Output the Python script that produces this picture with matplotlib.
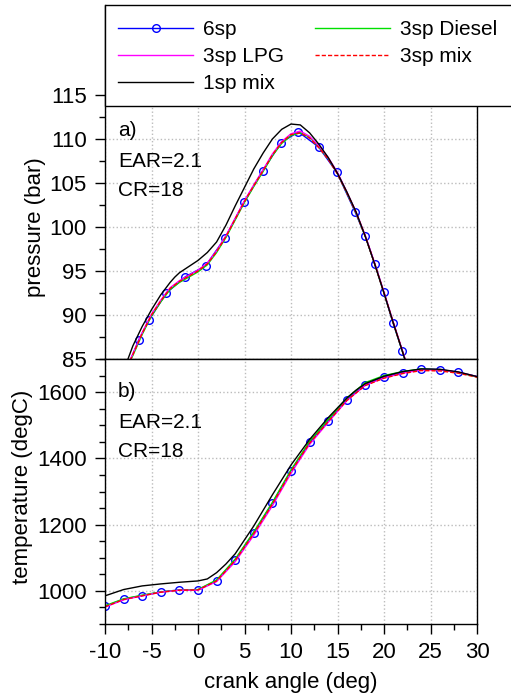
import matplotlib
matplotlib.use("Agg")
import matplotlib.pyplot as plt
from matplotlib.patches import Rectangle
from matplotlib.ticker import MultipleLocator, FixedLocator

plt.rcParams['font.family'] = ['Liberation Sans', 'DejaVu Sans']
plt.rcParams['axes.unicode_minus'] = False

################ pressure (bar), panel a) ################
p6_x = [-7.3, -6.36, -5.28, -3.4, -1.35, 0.83, 2.93, 4.93, 6.97, 8.94, 10.8,
        12.97, 14.94, 16.9, 17.97, 19.0, 19.97, 20.97, 21.97, 22.6]
p6_y = [84.8, 87.2, 89.4, 92.5, 94.35, 95.6, 98.8, 102.8, 106.4, 109.6, 110.8,
        109.1, 106.2, 101.7, 99.0, 95.8, 92.6, 89.1, 85.9, 83.8]

pd_x = [-7.3, -7, -6, -5, -4, -3, -2, -1, 0, 1, 2, 3, 4, 5, 6, 7, 8, 9, 10, 11,
        12, 13, 14, 15, 16, 17, 18, 19, 20, 21, 22, 22.6]
pd_y = [84.8, 85.4, 87.8, 89.9, 91.5, 92.9, 93.7, 94.3, 94.9, 95.7, 97.1, 98.8,
        100.8, 102.8, 104.6, 106.3, 108.1, 109.5, 110.4, 110.7, 110.2, 109.1,
        107.8, 106.1, 103.9, 101.6, 98.9, 95.8, 92.5, 89.1, 85.8, 83.8]
pl_y = [84.9, 85.6, 88.0, 90.1, 91.7, 93.1, 93.9, 94.5, 95.1, 95.9, 97.3, 99.0,
        101.0, 103.0, 104.8, 106.5, 108.3, 109.7, 110.6, 110.9, 110.3, 109.2,
        107.9, 106.2, 104.0, 101.7, 99.0, 95.9, 92.6, 89.2, 85.9, 83.9]
pm_y = [84.8, 85.5, 87.9, 90.0, 91.6, 93.0, 93.8, 94.4, 95.0, 95.8, 97.2, 98.9,
        100.9, 102.9, 104.7, 106.4, 108.2, 109.6, 110.5, 110.7, 110.1, 109.0,
        107.7, 106.0, 103.9, 101.6, 98.9, 95.8, 92.5, 89.1, 85.8, 83.8]

p1_x = [-7.6, -7, -6, -5, -4, -3, -2.5, -2, -1, 0, 1, 2, 3, 4, 5, 6, 7, 8, 9,
        10, 11, 12, 13, 14, 15, 16, 17, 18, 19, 20, 21, 22, 23]
p1_y = [84.8, 86.5, 88.7, 90.6, 92.3, 93.7, 94.3, 94.8, 95.5, 96.2, 97.1, 98.3,
        100.2, 102.4, 104.5, 106.6, 108.4, 110.0, 111.1, 111.7, 111.6, 110.7,
        109.4, 107.9, 106.1, 104.0, 101.7, 98.9, 95.8, 92.5, 89.1, 85.8, 82.4]

################ temperature (degC), panel b) ################
t_x = [-10, -8, -6, -4, -2, 0, 2, 4, 6, 8, 10, 12, 14, 16, 18, 20, 22, 24, 26,
       28, 30]
t6_y = [953, 975, 986, 997, 1003, 1003, 1031, 1094, 1176, 1265, 1363, 1448,
        1513, 1577, 1623, 1645, 1659, 1670, 1668, 1660, 1647]
td_y = [955, 976, 987, 997, 1002, 1004, 1033, 1096, 1178, 1267, 1365, 1451,
        1517, 1582, 1629, 1650, 1662, 1670, 1667, 1659, 1646]
tl_y = [951, 973, 985, 996, 1002, 1002, 1028, 1088, 1168, 1257, 1355, 1442,
        1509, 1574, 1621, 1643, 1657, 1667, 1667, 1660, 1647]
tm_y = [952, 974, 985, 996, 1002, 1003, 1030, 1092, 1173, 1262, 1360, 1446,
        1511, 1575, 1620, 1642, 1656, 1665, 1664, 1657, 1645]

t1_x = [-10, -8, -6, -4, -2, 0, 1, 2, 3, 4, 6, 8, 10, 12, 14, 16, 17, 18, 20,
        22, 24, 26, 28, 30]
t1_y = [985, 1004, 1015, 1021, 1026, 1030, 1036, 1055, 1081, 1112, 1196, 1290,
        1380, 1457, 1523, 1582, 1606, 1626, 1648, 1662, 1670, 1669, 1661, 1647]

x_ticks = [-10, -5, 0, 5, 10, 15, 20, 25, 30]
p_ticks = [85, 90, 95, 100, 105, 110, 115]
t_ticks = [1000, 1200, 1400, 1600]

labels = ["6sp", "3sp Diesel", "3sp LPG", "3sp mix", "1sp mix"]

# layout in pixels
W, H = 511, 695
L, R = 105, 477
TOP1, FRAME1, BOT1, BOT2 = 5, 105.5, 359, 624
PX_PER_BAR = 8.8

fig = plt.figure(figsize=(W / 100, H / 100), dpi=100)
ax1 = fig.add_axes([L / W, 1 - BOT1 / H, (R - L) / W, (BOT1 - TOP1) / H])
ax2 = fig.add_axes([L / W, 1 - BOT2 / H, (R - L) / W, (BOT2 - BOT1) / H])

fs = 16
grid_kw = dict(color='#bcbcbc', linestyle=':', linewidth=1.0)

# ---- panel a)
ax1.plot(p6_x, p6_y, color='#0000ff', lw=1, marker='o', ms=5.5, mfc='none',
         mec='#0000ff', mew=1, markevery=list(range(1, len(p6_x) - 1)),
         label=labels[0])
ax1.plot(pd_x, pd_y, color='#00e000', lw=1, label=labels[1])
ax1.plot(pd_x, pl_y, color='#ff00ff', lw=1, label=labels[2])
ax1.plot(pd_x, pm_y, color='#ff0000', lw=1, ls=(0, (3, 1.5)), label=labels[3])
ax1.plot(p1_x, p1_y, color='black', lw=1, label=labels[4])

ylim_top = 85 + (BOT1 - TOP1) / PX_PER_BAR
frame_top = 85 + (BOT1 - FRAME1) / PX_PER_BAR
ax1.set_xlim(-10, 30)
ax1.set_ylim(85, ylim_top)
ax1.spines['top'].set_visible(False)
ax1.spines['right'].set_bounds(85, frame_top)
ax1.set_xticks(x_ticks)
ax1.tick_params(axis='x', length=0, labelbottom=False)
ax1.yaxis.set_major_locator(FixedLocator(p_ticks))
ax1.yaxis.set_minor_locator(FixedLocator([85 + 2.5 * i for i in range(13)]))
ax1.tick_params(axis='y', which='major', direction='out', length=7, width=1,
                labelsize=fs, pad=6)
ax1.tick_params(axis='y', which='minor', direction='out', length=4.5, width=1)
ax1.grid(True, **grid_kw)
ax1.set_ylabel('pressure (bar)', fontsize=fs)
ax1.yaxis.set_label_coords((46 - L) / (R - L), (BOT1 - 227.5) / (BOT1 - TOP1))

ax1.text(-8.6, 111.0, 'a)', fontsize=15, va='center')
ax1.text(-8.6, 107.4, 'EAR=2.1', fontsize=15, va='center')
ax1.text(-8.6, 104.2, 'CR=18', fontsize=15, va='center')

# ---- panel b)
ax2.plot(t_x, t6_y, color='#0000ff', lw=1, marker='o', ms=5.5, mfc='none',
         mec='#0000ff', mew=1, markevery=list(range(len(t_x) - 1)))
ax2.plot(t_x, td_y, color='#00e000', lw=1)
ax2.plot(t_x, tl_y, color='#ff00ff', lw=1)
ax2.plot(t_x, tm_y, color='#ff0000', lw=1, ls=(0, (3, 1.5)))
ax2.plot(t1_x, t1_y, color='black', lw=1)

ax2.set_xlim(-10, 30)
ax2.set_ylim(900, 1700)
ax2.set_xticks(x_ticks)
ax2.xaxis.set_minor_locator(MultipleLocator(2.5))
ax2.set_yticks(t_ticks)
ax2.yaxis.set_minor_locator(MultipleLocator(50))
ax2.tick_params(which='major', direction='out', length=7, width=1,
                labelsize=fs, pad=6)
ax2.tick_params(which='minor', direction='out', length=4.5, width=1)
ax2.grid(True, **grid_kw)
ax2.set_ylabel('temperature (degC)', fontsize=fs)
ax2.yaxis.set_label_coords((33 - L) / (R - L), (BOT2 - 486.5) / (BOT2 - BOT1))
ax2.set_xlabel('crank angle (deg)', fontsize=fs)
ax2.xaxis.set_label_coords(0.5, -(672 - BOT2) / (BOT2 - BOT1))

ax2.text(-8.6, 1601, 'b)', fontsize=15, va='center')
ax2.text(-8.6, 1507, 'EAR=2.1', fontsize=15, va='center')
ax2.text(-8.6, 1420, 'CR=18', fontsize=15, va='center')

for ax in (ax1, ax2):
    for s in ax.spines.values():
        s.set_linewidth(1)

# legend box over the top of panel a)
box = Rectangle((L / W, 1 - FRAME1 / H), (520 - L) / W, (FRAME1 - TOP1) / H,
                transform=fig.transFigure, facecolor='white', edgecolor='black',
                lw=1, zorder=3, clip_on=False)
fig.patches.append(box)

h, lab = ax1.get_legend_handles_labels()
order = [0, 2, 4, 1, 3]
leg = fig.legend([h[i] for i in order], [lab[i] for i in order],
                 loc='upper left', bbox_to_anchor=(108 / W, 1 - 10 / H),
                 ncol=2, frameon=False, fontsize=15, borderpad=0,
                 handlelength=3.6, handletextpad=0.48, columnspacing=1.45,
                 labelspacing=0.38)
leg.set_zorder(4)

fig.savefig('out.png', dpi=100)
